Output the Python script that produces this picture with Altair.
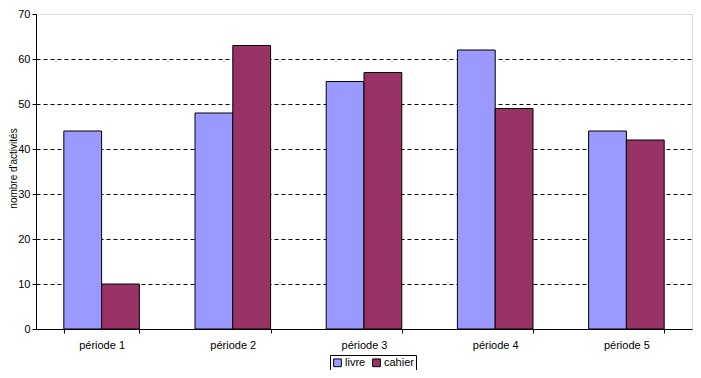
import altair as alt
import pandas as pd

periodes = ["période 1", "période 2", "période 3", "période 4", "période 5"]
livre = [44, 48, 55, 62, 44]
cahier = [10, 63, 57, 49, 42]
series = ["livre", "cahier"]
colors = ["#9999FF", "#993366"]

rows = []
for p, a, b in zip(periodes, livre, cahier):
    rows.append({"periode": p, "serie": "livre", "valeur": a})
    rows.append({"periode": p, "serie": "cahier", "valeur": b})
df = pd.DataFrame(rows)

FONT = "Liberation Sans"

chart = alt.Chart(df).mark_bar(stroke="black", strokeWidth=1).encode(
    x=alt.X("periode:N", sort=periodes, title=None,
            scale=alt.Scale(paddingInner=0.424, paddingOuter=0.212),
            axis=alt.Axis(labelAngle=0, tickBand="extent", tickSize=4, domainColor="black",
                          tickColor="black", labelFont=FONT, labelFontSize=11, labelColor="black",
                          labelPadding=6, grid=False)),
    xOffset=alt.XOffset("serie:N", sort=series),
    y=alt.Y("valeur:Q", title="nombre d'activités",
            scale=alt.Scale(domain=[0, 70], nice=False),
            axis=alt.Axis(values=[0, 10, 20, 30, 40, 50, 60, 70], tickSize=4, domainColor="black",
                          tickColor="black", labelFont=FONT, labelFontSize=11, labelColor="black",
                          titleFont=FONT, titleFontSize=10, titleFontWeight="normal", titleColor="black",
                          titleX=-18, titleY=154, titleBaseline="bottom", titleAngle=270,
                          labelPadding=2,
                          grid=True, gridColor="black", gridDash=[4, 3], gridWidth=1,
                          gridOpacity={"condition": {"test": "datum.value >= 70 || datum.value <= 0", "value": 0}, "value": 1})),
    color=alt.Color("serie:N", sort=series, scale=alt.Scale(domain=series, range=colors),
                    legend=alt.Legend(title=None, orient="none", direction="horizontal",
                                      legendX=294, legendY=341, symbolType="square", symbolSize=60,
                                      symbolStrokeColor="black", symbolStrokeWidth=1, symbolOpacity=1,
                                      labelFont=FONT, labelFontSize=11, labelColor="black",
                                      strokeColor="black", padding=2, columnPadding=4,
                                      symbolOffset=0, labelOffset=2)),
).properties(
    width=656, height=315,
    autosize=alt.AutoSizeParams(type="none"),
    padding={"left": 28, "top": 6, "right": 1, "bottom": 41},
).configure_view(stroke=None).configure(background="white")

chart.save("out.html", embed_options={"renderer": "svg", "actions": False})
